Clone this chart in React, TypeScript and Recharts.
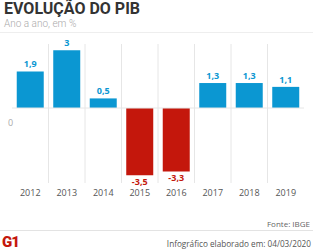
import React from 'react';
import { BarChart, Bar, XAxis, YAxis, Cell, LabelList, ReferenceLine } from 'recharts';

// Annual GDP growth (%), IBGE
const years = ['2012', '2013', '2014', '2015', '2016', '2017', '2018', '2019'];
const growth = [1.9, 3, 0.5, -3.5, -3.3, 1.3, 1.3, 1.1];

const data = years.map((year, i) => ({ year, value: growth[i] }));

const BLUE = '#0b97d2';
const RED = '#c4170c';
const GRID = '#e6e6e6';
const FONT = "'Open Sans', sans-serif";
const HEAD_FONT = "Roboto, 'Open Sans', sans-serif";

const fmt = (v: number) => String(v).replace('.', ',');

function ValueLabel(props: any) {
  const { x, y, width, height, value } = props;
  const top = Math.min(y, y + height);
  const bottom = Math.max(y, y + height);
  const neg = value < 0;
  return (
    <text
      x={x + width / 2}
      y={neg ? bottom + 9.5 : top - 4}
      textAnchor="middle"
      fontSize={9}
      fontWeight={700}
      fontFamily={FONT}
      fill={neg ? RED : BLUE}
    >
      {fmt(value)}
    </text>
  );
}

function ZeroLabel(props: any) {
  const { viewBox } = props;
  return (
    <text x={viewBox.x - 4} y={viewBox.y + 18} fontSize={9} fontFamily={FONT} fill="#aaa">
      0
    </text>
  );
}

export default function App() {
  return (
    <div
      style={{
        position: 'absolute',
        left: 0,
        top: 0,
        width: 313,
        height: 252,
        background: '#fff',
        fontFamily: FONT,
        overflow: 'hidden',
      }}
    >
      <div
        style={{
          position: 'absolute',
          left: 4,
          top: 0,
          fontSize: 16,
          lineHeight: '17px',
          fontWeight: 700,
          color: '#333',
          fontFamily: HEAD_FONT,
        }}
      >
        EVOLUÇÃO DO PIB
      </div>
      <div
        style={{
          position: 'absolute',
          left: 4,
          top: 18,
          fontSize: 10,
          lineHeight: '12px',
          color: '#aaa',
          fontFamily: HEAD_FONT,
          fontWeight: 300,
        }}
      >
        Ano a ano, em %
      </div>
      <div style={{ position: 'absolute', left: 0, top: 32, width: 313, height: 1, background: '#eee' }} />

      <div style={{ position: 'absolute', left: 0, top: 0 }}>
        <BarChart
          width={313}
          height={252}
          data={data}
          margin={{ top: 44, right: 9, bottom: 49, left: 12 }}
          barCategoryGap="13%"
        >
          <XAxis
            dataKey="year"
            height={20}
            axisLine={false}
            tickLine={false}
            tickSize={0}
            tickMargin={7}
            interval={0}
            tick={{ fontSize: 9, fill: '#555', fontFamily: FONT }}
          />
          <YAxis hide domain={[-3.9, 3.33]} />
          {years.slice(1).map((y) => (
            <ReferenceLine key={y} x={y} position="start" stroke={GRID} strokeWidth={1} />
          ))}
          <ReferenceLine y={0} stroke={GRID} strokeWidth={1} label={<ZeroLabel />} />
          <Bar dataKey="value" isAnimationActive={false}>
            {data.map((d) => (
              <Cell key={d.year} fill={d.value < 0 ? RED : BLUE} />
            ))}
            <LabelList dataKey="value" content={<ValueLabel />} />
          </Bar>
        </BarChart>
      </div>

      <div style={{ position: 'absolute', right: 3, top: 218, fontSize: 8, lineHeight: '11px', color: '#666' }}>
        Fonte: IBGE
      </div>
      <div style={{ position: 'absolute', left: 0, top: 230, width: 313, height: 1, background: '#e3e3e3' }} />
      <div
        style={{
          position: 'absolute',
          left: 2,
          top: 234,
          fontSize: 15,
          lineHeight: '16px',
          fontWeight: 900,
          color: RED,
          fontFamily: HEAD_FONT,
          letterSpacing: -1,
        }}
      >
        G1
      </div>
      <div
        style={{
          position: 'absolute',
          right: 2,
          top: 238,
          fontSize: 8.2,
          lineHeight: '11px',
          color: '#555',
        }}
      >
        Infográfico elaborado em: 04/03/2020
      </div>
    </div>
  );
}
